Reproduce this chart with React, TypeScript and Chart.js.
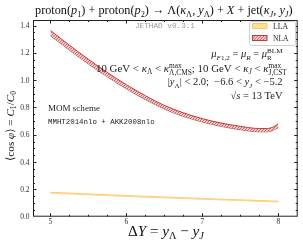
import { useEffect, useRef } from "react";
import { Chart, registerables } from "chart.js";
Chart.register(...registerables);

const SERIF = "'Liberation Serif', 'DejaVu Serif', serif";
const MONO = "'Liberation Mono', 'DejaVu Sans Mono', monospace";

// NLA band (ΔY, upper, lower)
const nlaDeltaY = [5.0, 5.25, 5.5, 5.75, 6.0, 6.25, 6.5, 6.75, 7.0, 7.25, 7.5, 7.75, 7.85, 7.93, 8.0];
const nlaHigh = [1.364, 1.256, 1.153, 1.056, 0.967, 0.886, 0.815, 0.761, 0.718, 0.686, 0.662, 0.646, 0.646, 0.657, 0.681];
const nlaLow = [1.326, 1.22, 1.119, 1.024, 0.937, 0.858, 0.789, 0.735, 0.694, 0.662, 0.638, 0.622, 0.622, 0.633, 0.655];
// LLA band
const llaDeltaY = [5.0, 6.0, 7.0, 8.0];
const llaHigh = [0.179, 0.155, 0.134, 0.114];
const llaLow = [0.173, 0.149, 0.128, 0.108];
// ticks
const xMajorTicks = [5, 6, 7, 8];
const yMajorTicks = [0, 0.2, 0.4, 0.6, 0.8, 1.0, 1.2, 1.4];

type Part = { t: string; i?: boolean; sub?: boolean; sup?: boolean; st?: [string, string]; mono?: boolean };

function fnt(size: number, italic?: boolean, mono?: boolean) {
  return `${italic ? "italic " : ""}${size}px ${mono ? MONO : SERIF}`;
}
function partWidth(ctx: CanvasRenderingContext2D, p: Part, size: number) {
  if (p.st) {
    ctx.font = fnt(size * 0.68, false);
    return Math.max(ctx.measureText(p.st[0]).width, ctx.measureText(p.st[1]).width);
  }
  ctx.font = fnt(p.sub || p.sup ? size * 0.68 : size, p.i, p.mono);
  return ctx.measureText(p.t).width;
}
function measure(ctx: CanvasRenderingContext2D, parts: Part[], size: number) {
  let w = 0;
  for (const p of parts) w += partWidth(ctx, p, size);
  return w;
}
function drawParts(ctx: CanvasRenderingContext2D, parts: Part[], x0: number, yc: number, size: number, color: string) {
  let cx = x0;
  const base = yc + size * 0.33;
  ctx.fillStyle = color;
  ctx.textBaseline = "alphabetic";
  ctx.textAlign = "left";
  for (const p of parts) {
    const w = partWidth(ctx, p, size);
    if (p.st) {
      ctx.font = fnt(size * 0.68, false);
      ctx.fillText(p.st[0], cx, base - size * 0.42);
      ctx.fillText(p.st[1], cx, base + size * 0.26);
    } else if (p.sub) {
      ctx.font = fnt(size * 0.68, p.i, p.mono);
      ctx.fillText(p.t, cx, base + size * 0.2);
    } else if (p.sup) {
      ctx.font = fnt(size * 0.68, p.i, p.mono);
      ctx.fillText(p.t, cx, base - size * 0.4);
    } else {
      ctx.font = fnt(size, p.i, p.mono);
      ctx.fillText(p.t, cx, base);
    }
    cx += w;
  }
}
// spans [x0, x1]
function drawFit(ctx: CanvasRenderingContext2D, parts: Part[], x0: number, x1: number, yc: number, color: string) {
  const w0 = measure(ctx, parts, 10);
  const size = (10 * (x1 - x0)) / w0;
  drawParts(ctx, parts, x0, yc, size, color);
}
function drawRight(ctx: CanvasRenderingContext2D, parts: Part[], xr: number, yc: number, size: number, color: string) {
  const w = measure(ctx, parts, size);
  drawParts(ctx, parts, xr - w, yc, size, color);
}

const titleParts: Part[] = [
  { t: "proton(" }, { t: "p", i: true }, { t: "1", sub: true }, { t: ") + proton(" }, { t: "p", i: true }, { t: "2", sub: true },
  { t: ") → Λ(" }, { t: "κ", i: true }, { t: "Λ", sub: true }, { t: ", " }, { t: "y", i: true }, { t: "Λ", sub: true },
  { t: ") + " }, { t: "X", i: true }, { t: " + jet(" }, { t: "κ", i: true }, { t: "J", sub: true, i: true }, { t: ", " },
  { t: "y", i: true }, { t: "J", sub: true, i: true }, { t: ")" },
];
const muParts: Part[] = [
  { t: "μ", i: true }, { t: "F", sub: true, i: true }, { t: "1,2", sub: true }, { t: " = " }, { t: "μ", i: true }, { t: "R", sub: true, i: true },
  { t: " = " }, { t: "μ", i: true }, { st: ["BLM", "R"] },
];
const kinParts: Part[] = [
  { t: "10 GeV < " }, { t: "κ", i: true }, { t: "Λ", sub: true }, { t: " < " }, { t: "κ", i: true }, { st: ["max", "Λ,CMS"] },
  { t: "; 10 GeV < " }, { t: "κ", i: true }, { t: "J", sub: true, i: true }, { t: " < " }, { t: "κ", i: true }, { st: ["max", "J,CST"] },
];
const rapParts: Part[] = [
  { t: "|" }, { t: "y", i: true }, { t: "Λ", sub: true }, { t: "| < 2.0;  −6.6 < " }, { t: "y", i: true }, { t: "J", sub: true, i: true }, { t: " < −5.2" },
];
const sParts: Part[] = [{ t: "√" }, { t: "s", i: true }, { t: " = 13 TeV" }];
const xTitleParts: Part[] = [
  { t: "Δ" }, { t: "Y", i: true }, { t: " = " }, { t: "y", i: true }, { t: "Λ", sub: true }, { t: " − " }, { t: "y", i: true }, { t: "J", sub: true, i: true },
];
const yTitleParts: Part[] = [
  { t: "⟨cos " }, { t: "φ", i: true }, { t: "⟩ = " }, { t: "C", i: true }, { t: "1", sub: true }, { t: "/" }, { t: "C", i: true }, { t: "0", sub: true },
];

function mkPattern(bg: string, fg: string) {
  const c = document.createElement("canvas");
  c.width = 3;
  c.height = 3;
  const g = c.getContext("2d")!;
  g.fillStyle = bg;
  g.fillRect(0, 0, 3, 3);
  g.fillStyle = fg;
  g.fillRect(0, 2, 1, 1);
  g.fillRect(1, 1, 1, 1);
  g.fillRect(2, 0, 1, 1);
  return g.createPattern(c, "repeat")!;
}

export default function App() {
  const ref = useRef<HTMLCanvasElement>(null);
  useEffect(() => {
    const canvas = ref.current!;
    const nlaPat = mkPattern("rgb(240,200,200)", "rgb(205,105,105)");
    const llaPat = mkPattern("rgb(255,232,180)", "rgb(253,200,110)");
    const nlaEdge = "rgb(190,62,62)";
    const llaEdge = "rgb(253,196,100)";

    const overlay = {
      id: "overlay",
      afterDraw(chart: any) {
        const ctx: CanvasRenderingContext2D = chart.ctx;
        const { left, right, top, bottom } = chart.chartArea;
        const xs = chart.scales.x;
        const ys = chart.scales.y;
        ctx.save();
        // frame
        ctx.strokeStyle = "#222";
        ctx.lineWidth = 1;
        ctx.strokeRect(left + 0.5, top + 0.5, right - left - 1, bottom - top - 1);
        // ticks
        ctx.beginPath();
        for (let k = 0; k <= 14; k++) {
          const v = 4.75 + k * 0.25;
          const px = Math.round(xs.getPixelForValue(v)) + 0.5;
          if (px < left + 1 || px > right - 1) continue;
          const major = k % 4 === 1;
          const L = major ? 3.5 : 2;
          ctx.moveTo(px, bottom);
          ctx.lineTo(px, bottom - L);
          ctx.moveTo(px, top);
          ctx.lineTo(px, top + L);
        }
        for (let k = 0; k <= 28; k++) {
          const v = k * 0.05;
          const py = Math.round(ys.getPixelForValue(v)) + 0.5;
          if (py < top + 1 || py > bottom - 1) continue;
          const major = k % 4 === 0;
          const L = major ? 3.5 : 2;
          ctx.moveTo(left, py);
          ctx.lineTo(left + L, py);
          ctx.moveTo(right, py);
          ctx.lineTo(right - L, py);
        }
        ctx.stroke();

        // tick labels
        ctx.fillStyle = "#333";
        ctx.font = fnt(7.5);
        ctx.textBaseline = "middle";
        ctx.textAlign = "right";
        for (const v of yMajorTicks) ctx.fillText(v.toFixed(1), left - 3.5, ys.getPixelForValue(v) + 0.5);
        ctx.textAlign = "center";
        for (const v of xMajorTicks) ctx.fillText(String(v), xs.getPixelForValue(v), bottom + 5.5);

        // texts
        drawFit(ctx, titleParts, 35, 293, 10, "#111");
        drawFit(ctx, [{ t: "JETHAD v0.3.1", mono: true }], 135, 195, 25, "#9a9a9a");
        drawFit(ctx, kinParts, 96, 287, 68.5, "#222");
        drawRight(ctx, muParts, 282.5, 54, 10.5, "#222");
        drawRight(ctx, rapParts, 282.5, 82, 10.5, "#222");
        drawRight(ctx, sParts, 282.5, 95.5, 10.5, "#222");
        drawFit(ctx, [{ t: "MOM scheme" }], 48, 100, 108, "#222");
        drawFit(ctx, [{ t: "MMHT2014nlo + AKK2008nlo", mono: true }], 48, 155, 121.5, "#222");
        drawFit(ctx, xTitleParts, 128, 204, 231, "#111");
        ctx.save();
        ctx.translate(10, 126);
        ctx.rotate(-Math.PI / 2);
        drawFit(ctx, yTitleParts, -35, 35, 0, "#111");
        ctx.restore();

        // legend
        ctx.fillStyle = "rgba(255,255,255,0.9)";
        ctx.strokeStyle = "#d0d0d0";
        ctx.lineWidth = 1;
        ctx.beginPath();
        (ctx as any).roundRect(249.5, 21.5, 46, 24, 2);
        ctx.fill();
        ctx.stroke();
        ctx.fillStyle = llaPat;
        ctx.fillRect(252, 23.5, 15, 5);
        ctx.strokeStyle = llaEdge;
        ctx.strokeRect(252.5, 23.5, 14.5, 5);
        ctx.fillStyle = nlaPat;
        ctx.fillRect(252, 35.5, 15, 5);
        ctx.strokeStyle = nlaEdge;
        ctx.strokeRect(252.5, 35.5, 14.5, 5);
        drawFit(ctx, [{ t: "LLA" }], 273, 288, 26, "#222");
        drawFit(ctx, [{ t: "NLA" }], 273, 288.5, 38.3, "#222");
        ctx.restore();
      },
    };

    const band = (xv: number[], yv: number[], edge: string, w: number, fill: any) => ({
      data: xv.map((x, i) => ({ x, y: yv[i] })),
      borderColor: edge,
      borderWidth: w,
      backgroundColor: fill || "transparent",
      fill: fill ? "+1" : false,
      pointRadius: 0,
      cubicInterpolationMode: "monotone",
    });

    const chart = new Chart(canvas, {
      type: "line",
      data: {
        datasets: [
          band(nlaDeltaY, nlaHigh, nlaEdge, 1, nlaPat),
          band(nlaDeltaY, nlaLow, nlaEdge, 1, null),
          band(llaDeltaY, llaHigh, llaEdge, 0.8, llaPat),
          band(llaDeltaY, llaLow, llaEdge, 0.8, null),
        ],
      },
      options: {
        responsive: false,
        animation: false,
        devicePixelRatio: 1,
        layout: { padding: { top: 20, right: 5.3, left: 0, bottom: 0 } },
        plugins: { legend: { display: false }, tooltip: { enabled: false }, title: { display: false } },
        scales: {
          x: {
            type: "linear",
            min: 4.77,
            max: 8.255,
            grid: { display: false },
            border: { display: false },
            ticks: { display: false },
            afterFit: (s: any) => {
              s.height = 29.3;
            },
          },
          y: {
            type: "linear",
            min: 0,
            max: 1.441,
            grid: { display: false },
            border: { display: false },
            ticks: { display: false },
            afterFit: (s: any) => {
              s.width = 33;
            },
          },
        },
      },
      plugins: [overlay],
    } as any);
    return () => chart.destroy();
  }, []);
  return (
    <div style={{ position: "absolute", left: 0, top: 0, width: 303, height: 246, background: "#fff" }}>
      <canvas ref={ref} width={303} height={246} style={{ display: "block", width: 303, height: 246 }} />
    </div>
  );
}
